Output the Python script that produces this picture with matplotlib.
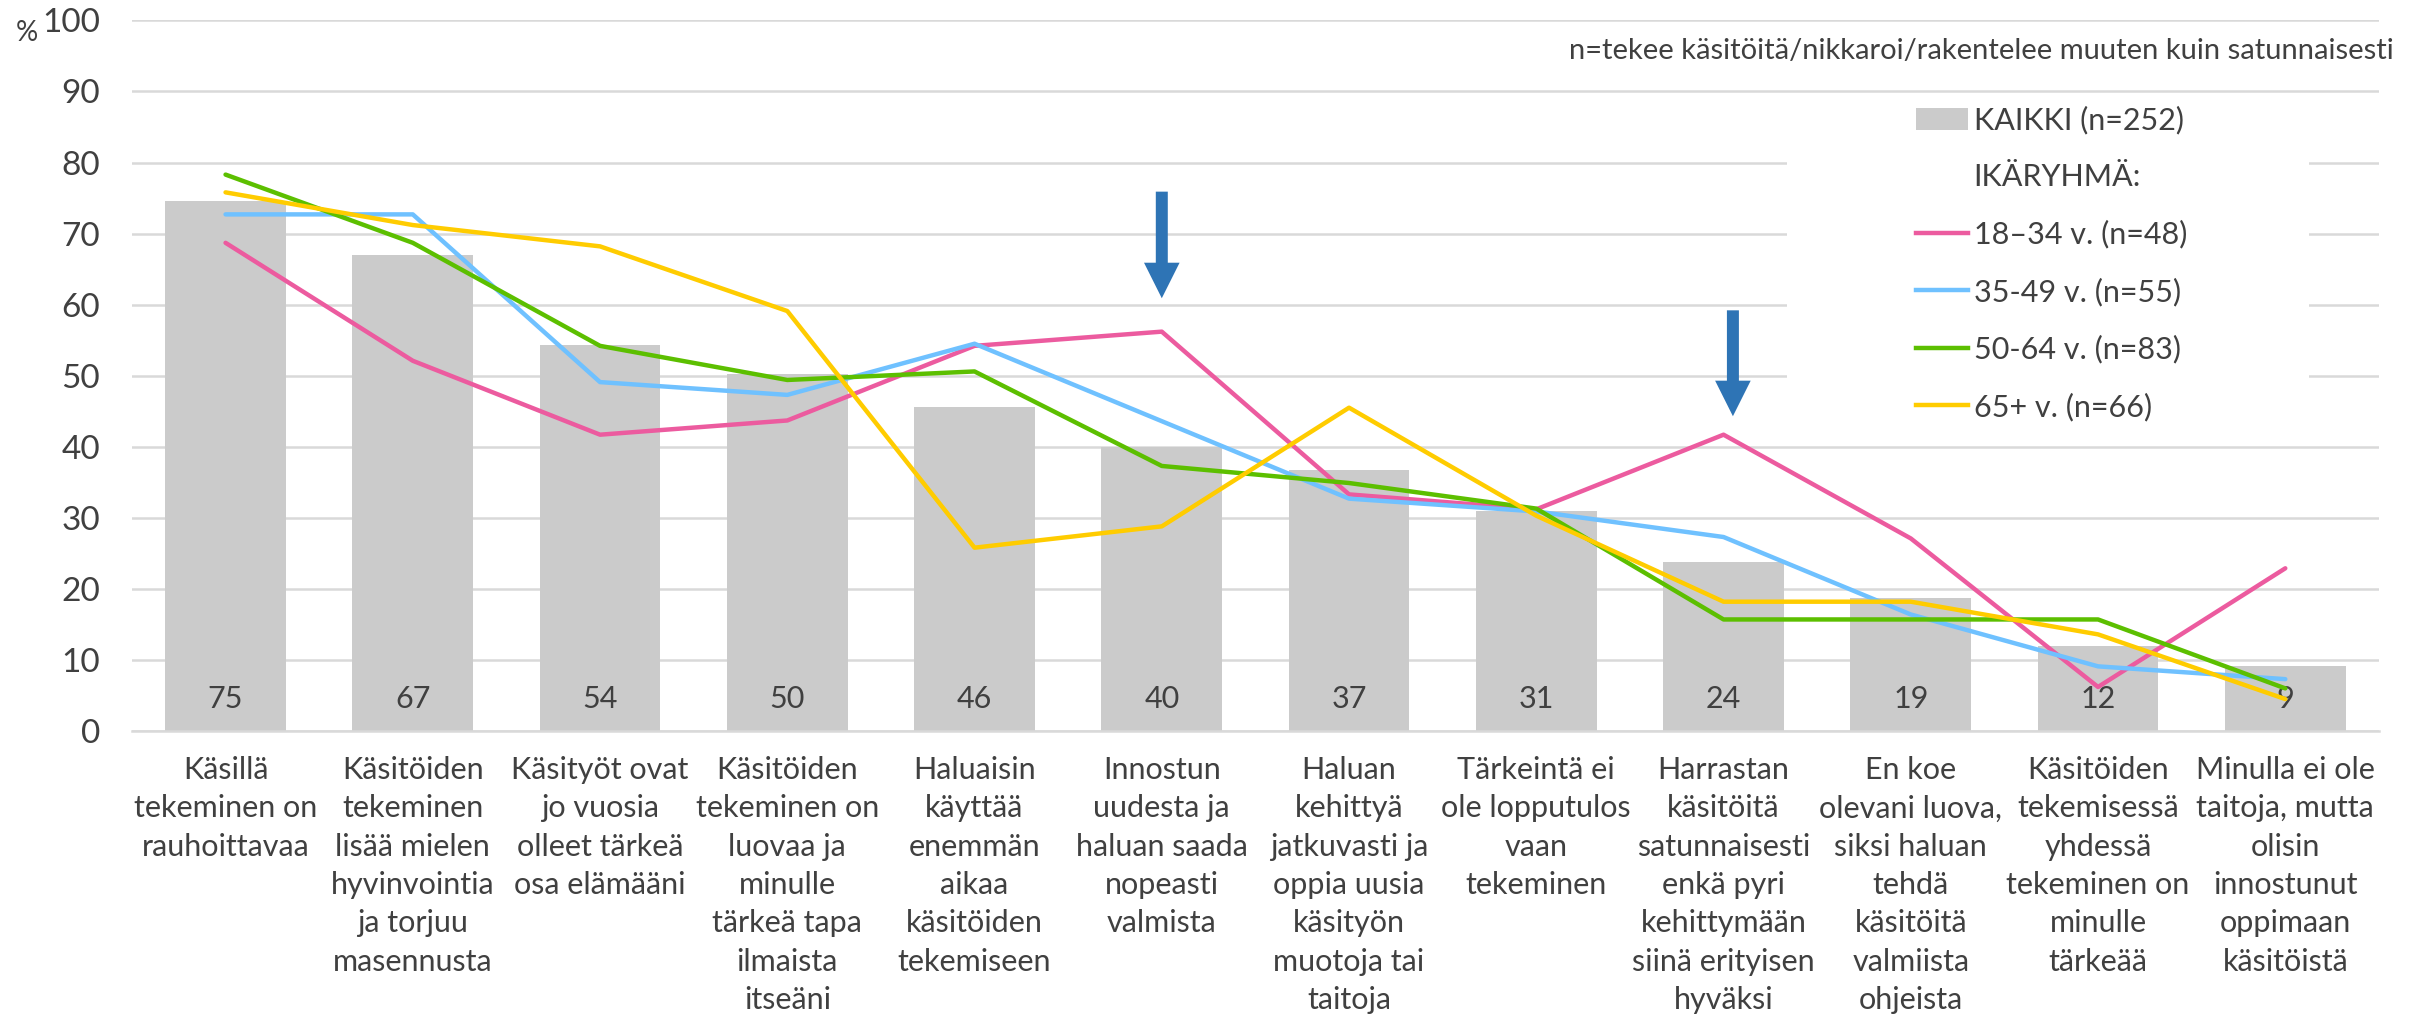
import matplotlib
matplotlib.use("Agg")
import matplotlib.pyplot as plt
from matplotlib.patches import Patch, Rectangle
from matplotlib.lines import Line2D
import numpy as np

plt.rcParams['font.family'] = ['Lato', 'DejaVu Sans']

# Data
categories = [
    "Käsillä\ntekeminen on\nrauhoittavaa",
    "Käsitöiden\ntekeminen\nlisää mielen\nhyvinvointia\nja torjuu\nmasennusta",
    "Käsityöt ovat\njo vuosia\nolleet tärkeä\nosa elämääni",
    "Käsitöiden\ntekeminen on\nluovaa ja\nminulle\ntärkeä tapa\nilmaista\nitseäni",
    "Haluaisin\nkäyttää\nenemmän\naikaa\nkäsitöiden\ntekemiseen",
    "Innostun\nuudesta ja\nhaluan saada\nnopeasti\nvalmista",
    "Haluan\nkehittyä\njatkuvasti ja\noppia uusia\nkäsityön\nmuotoja tai\ntaitoja",
    "Tärkeintä ei\nole lopputulos\nvaan\ntekeminen",
    "Harrastan\nkäsitöitä\nsatunnaisesti\nenkä pyri\nkehittymään\nsiinä erityisen\nhyväksi",
    "En koe\nolevani luova,\nsiksi haluan\ntehdä\nkäsitöitä\nvalmiista\nohjeista",
    "Käsitöiden\ntekemisessä\nyhdessä\ntekeminen on\nminulle\ntärkeää",
    "Minulla ei ole\ntaitoja, mutta\nolisin\ninnostunut\noppimaan\nkäsitöistä",
]
kaikki = [74.6, 67.0, 54.3, 50.3, 45.6, 40.0, 36.8, 30.9, 23.8, 18.7, 11.9, 9.1]
age_18_34 = [68.7, 52.1, 41.7, 43.7, 54.2, 56.2, 33.3, 31.2, 41.7, 27.1, 6.2, 22.9]
age_35_49 = [72.7, 72.7, 49.1, 47.3, 54.5, 43.6, 32.7, 30.9, 27.3, 16.4, 9.1, 7.3]
age_50_64 = [78.3, 68.7, 54.2, 49.4, 50.6, 37.3, 34.9, 31.3, 15.7, 15.7, 15.7, 6.0]
age_65 = [75.8, 71.2, 68.2, 59.1, 25.8, 28.8, 45.5, 30.3, 18.2, 18.2, 13.6, 4.5]
series_labels = ["18–34 v. (n=48)", "35-49 v. (n=55)", "50-64 v. (n=83)", "65+ v. (n=66)"]
series_colors = ["#EC5B9F", "#6FC1FF", "#5CBF00", "#FFCC00"]
bar_label = "KAIKKI (n=252)"
arrow_cats = [5, 8.05]
arrow_top = [75.9, 59.2]
arrow_tip = [60.9, 44.3]

txt = "#404040"
fs = 22

fig = plt.figure(figsize=(24.25, 10.19), dpi=100)
ax = fig.add_axes([0.0544, 0.2826, 0.9266, 0.6974])

x = np.arange(len(categories))
ax.bar(x, kaikki, width=0.645, color="#CBCBCB", zorder=2)
for xi, v in zip(x, kaikki):
    ax.text(xi, 4.5, f"{v:.0f}", ha="center", va="center", fontsize=fs, color=txt, zorder=3)

series = [age_18_34, age_35_49, age_50_64, age_65]
for vals, col in zip(series, series_colors):
    ax.plot(x, vals, color=col, lw=3.2, zorder=4, solid_capstyle="round")

for ax_x, top, tip in zip(arrow_cats, arrow_top, arrow_tip):
    ax.arrow(ax_x, top, 0, tip - top, width=0.064, head_width=0.19,
             head_length=5.0, length_includes_head=True, color="#2E74B5",
             lw=0, zorder=5)

ax.set_xlim(-0.5, 11.5)
ax.set_ylim(0, 100)
ax.set_yticks(range(0, 101, 10))
ax.yaxis.grid(True, color="#D9D9D9", lw=1.8, zorder=0)
ax.set_axisbelow(True)
for s in ["top", "right", "left"]:
    ax.spines[s].set_visible(False)
ax.spines["bottom"].set_color("#D9D9D9")
ax.spines["bottom"].set_linewidth(1.8)
ax.tick_params(axis="y", length=0, pad=23, labelsize=fs + 2, labelcolor=txt)
ax.tick_params(axis="x", length=0, pad=18, labelsize=fs, labelcolor=txt)
ax.set_xticks(x)
ax.set_xticklabels(categories, linespacing=1.45)

fig.text(0.011, 0.968, "%", fontsize=fs - 2, color=txt, ha="center", va="center")
fig.text(0.987, 0.95, "n=tekee käsitöitä/nikkaroi/rakentelee muuten kuin satunnaisesti",
         fontsize=fs - 1, color=txt, ha="right", va="center")

# white legend area covering the gridlines
W, H = 2425, 1019
ax.add_patch(Rectangle((1787 / W, 1 - 432 / H), (2309 - 1787) / W, (432 - 95) / H,
                       transform=fig.transFigure, facecolor="white", edgecolor="none",
                       zorder=1, clip_on=False))

handles = [Patch(facecolor="#CBCBCB", edgecolor="none"),
           Line2D([], [], color="none")]
handles += [Line2D([], [], color=c, lw=3.2) for c in series_colors]
labels = [bar_label, "IKÄRYHMÄ:"] + series_labels
leg = ax.legend(handles, labels, loc="upper left", bbox_to_anchor=(1916 / W, 1 - 106 / H),
                bbox_transform=fig.transFigure, frameon=False, fontsize=22,
                handlelength=1.7, handletextpad=0.19, labelspacing=0.94,
                borderpad=0, borderaxespad=0, labelcolor=txt)
leg.set_zorder(6)

fig.savefig("out.png", dpi=100)
